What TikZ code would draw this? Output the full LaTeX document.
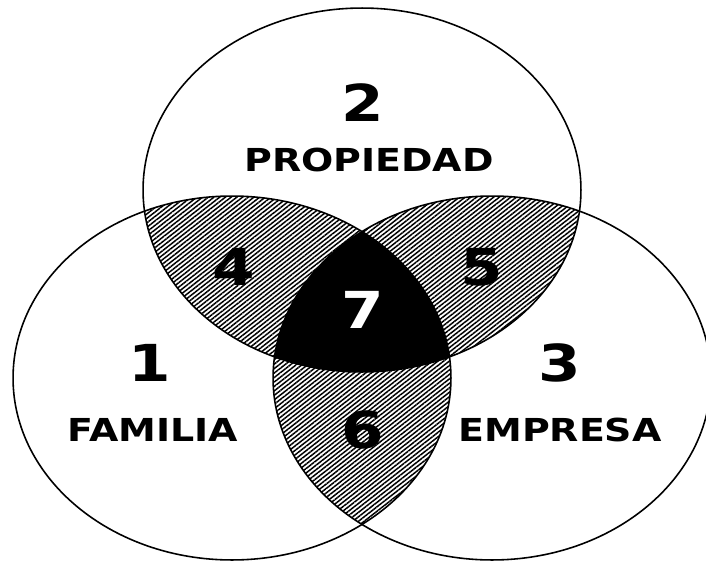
\documentclass[tikz,border=0pt]{standalone}
\usepackage{fontspec}
\setmainfont{DejaVu Sans}
\newfontfamily\rotulo[FakeStretch=1.2]{DejaVu Sans}
\usetikzlibrary{patterns.meta}

% contornos de los tres conjuntos
\def\conjPropiedad{(362,190) ellipse [x radius=4.38cm, y radius=3.64cm]}
\def\conjFamilia{(232,378) ellipse [x radius=4.38cm, y radius=3.64cm]}
\def\conjEmpresa{(492,378) ellipse [x radius=4.38cm, y radius=3.64cm]}

\begin{document}
\begin{tikzpicture}[
    x=0.02cm, y=-0.02cm,
    conjunto/.style={draw, line width=0.9pt},
    rayado/.style={pattern={Lines[angle=38, distance=2pt, line width=0.85pt]}},
    numero/.style={font=\rotulo\bfseries\fontsize{29}{29}\selectfont},
    etiqueta/.style={font=\rotulo\bfseries\fontsize{18}{18}\selectfont}
  ]
    \useasboundingbox (0,0) rectangle (706,565);

    % intersecciones de dos conjuntos
    \begin{scope}
      \clip \conjPropiedad;
      \fill[rayado] \conjFamilia;
      \fill[rayado] \conjEmpresa;
    \end{scope}
    \begin{scope}
      \clip \conjFamilia;
      \fill[rayado] \conjEmpresa;
    \end{scope}
    % interseccion de los tres
    \begin{scope}
      \clip \conjPropiedad;
      \clip \conjFamilia;
      \fill[black] \conjEmpresa;
    \end{scope}

    \draw[conjunto] \conjPropiedad;
    \draw[conjunto] \conjFamilia;
    \draw[conjunto] \conjEmpresa;

    \node[numero] (n2) at (363,103) {2};
    \node[etiqueta] (propiedad) at (369,160) {PROPIEDAD};
    \node[numero] (n1) at (150,363) {1};
    \node[etiqueta] (familia) at (153,430) {FAMILIA};
    \node[numero] (n3) at (560,363) {3};
    \node[etiqueta] (empresa) at (560,430) {EMPRESA};
    \node[numero] (n4) at (234,267) {4};
    \node[numero] (n5) at (482,267) {5};
    \node[numero, white] (n7) at (363,310) {7};
    \node[numero] (n6) at (363,430) {6};
  \end{tikzpicture}
\end{document}
